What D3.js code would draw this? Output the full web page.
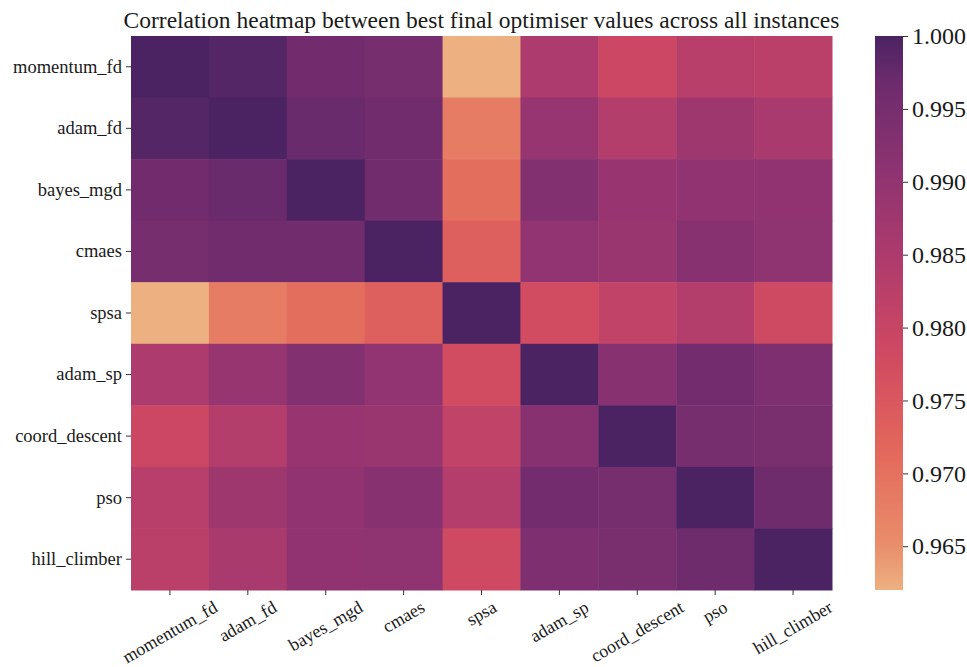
<!DOCTYPE html>
<html>
<head>
<meta charset="utf-8">
<title>Correlation heatmap</title>
<script src="https://d3js.org/d3.v7.min.js"></script>
<style>
  body { margin: 0; background: #fff; }
  svg text { font-family: "Liberation Serif", "DejaVu Serif", serif; fill: #1a1a1a; }
  .tick line { stroke: #333; }
</style>
</head>
<body>
<svg id="chart" width="967" height="667"></svg>
<script>
// optimisers, same order on both axes
var optimisers = ["momentum_fd", "adam_fd", "bayes_mgd", "cmaes", "spsa",
                  "adam_sp", "coord_descent", "pso", "hill_climber"];

// one row of correlations per optimiser
var momentumFd   = [1.0000, 0.9990, 0.9957, 0.9948, 0.9620, 0.9850, 0.9790, 0.9830, 0.9823];
var adamFd       = [0.9990, 1.0000, 0.9970, 0.9962, 0.9680, 0.9892, 0.9838, 0.9875, 0.9857];
var bayesMgd     = [0.9957, 0.9970, 1.0000, 0.9960, 0.9705, 0.9928, 0.9888, 0.9902, 0.9902];
var cmaes        = [0.9948, 0.9962, 0.9960, 1.0000, 0.9735, 0.9900, 0.9886, 0.9920, 0.9904];
var spsa         = [0.9620, 0.9680, 0.9705, 0.9735, 1.0000, 0.9775, 0.9810, 0.9838, 0.9785];
var adamSp       = [0.9850, 0.9892, 0.9928, 0.9900, 0.9775, 1.0000, 0.9918, 0.9955, 0.9935];
var coordDescent = [0.9790, 0.9838, 0.9888, 0.9886, 0.9810, 0.9918, 1.0000, 0.9948, 0.9945];
var pso          = [0.9830, 0.9875, 0.9902, 0.9920, 0.9838, 0.9955, 0.9948, 1.0000, 0.9963];
var hillClimber  = [0.9823, 0.9857, 0.9902, 0.9904, 0.9785, 0.9935, 0.9945, 0.9963, 1.0000];

var rows = [momentumFd, adamFd, bayesMgd, cmaes, spsa, adamSp, coordDescent, pso, hillClimber];

var cbarTicks = [0.965, 0.970, 0.975, 0.980, 0.985, 0.990, 0.995, 1.000];

var title = "Correlation heatmap between best final optimiser values across all instances";

// seaborn "flare" colour ramp
var flare   = ["#edb081", "#e98d6b", "#e3685c", "#d14a61", "#b13c6c", "#8f3371", "#6c2b6d", "#4b2362"];
var flareAt = [0, 1/12, 3/12, 5/12, 7/12, 9/12, 11/12, 1];

var serif = '"Liberation Serif", "DejaVu Serif", serif';

var svg = d3.select("#chart");

// plot box (px)
var pLeft = 131, pRight = 832, pTop = 36, pBottom = 590;

var x = d3.scaleBand().domain(optimisers).range([pLeft, pRight]);
var y = d3.scaleBand().domain(optimisers).range([pTop, pBottom]);

var vmin = d3.min(rows, function(r) { return d3.min(r); }),
    vmax = d3.max(rows, function(r) { return d3.max(r); });

var color = d3.scaleLinear()
    .domain(flareAt.map(function(t) { return vmin + t * (vmax - vmin); }))
    .range(flare)
    .interpolate(d3.interpolateRgb);

// cells
var cells = [];
rows.forEach(function(r, i) {
  r.forEach(function(v, j) {
    cells.push({row: optimisers[i], col: optimisers[j], value: v});
  });
});

svg.append("g").selectAll("rect")
  .data(cells)
  .enter().append("rect")
    .attr("x", function(d) { return x(d.col); })
    .attr("y", function(d) { return y(d.row); })
    .attr("width", x.bandwidth() + 0.5)
    .attr("height", y.bandwidth() + 0.5)
    .attr("fill", function(d) { return color(d.value); });

// y axis
var yAxis = svg.append("g")
    .attr("transform", "translate(" + pLeft + ",0)")
    .call(d3.axisLeft(y).tickSize(5).tickPadding(4))
    .attr("font-family", serif);
yAxis.select(".domain").remove();
yAxis.selectAll("text").style("font-size", "18.5px").style("font-family", serif);

// x axis, labels turned 30 degrees and centred under the tick
var xAxis = svg.append("g")
    .attr("transform", "translate(0," + pBottom + ")")
    .call(d3.axisBottom(x).tickSize(5))
    .attr("font-family", serif);
xAxis.select(".domain").remove();
var fs = 18, ang = 30 * Math.PI / 180;
xAxis.selectAll("text")
    .style("font-size", fs + "px")
    .style("font-family", serif)
    .attr("text-anchor", "middle")
    .attr("y", 0)
    .attr("dy", "0.32em")
    .attr("transform", function() {
      var w = this.getComputedTextLength();
      var bh = w * Math.sin(ang) + fs * Math.cos(ang);
      return "translate(0," + (5 + 3 + bh / 2) + ") rotate(-30)";
    });

// colour bar
var cbX = 875, cbW = 28;
var cbScale = d3.scaleLinear().domain([vmin, vmax]).range([pBottom, pTop]);

var grad = svg.append("defs").append("linearGradient")
    .attr("id", "cbar")
    .attr("x1", 0).attr("y1", 1).attr("x2", 0).attr("y2", 0);
d3.range(0, 1.0001, 0.02).forEach(function(t) {
  grad.append("stop")
      .attr("offset", t)
      .attr("stop-color", color(vmin + t * (vmax - vmin)));
});

svg.append("rect")
    .attr("x", cbX).attr("y", pTop)
    .attr("width", cbW).attr("height", pBottom - pTop)
    .attr("fill", "url(#cbar)");

var cAxis = svg.append("g")
    .attr("transform", "translate(" + (cbX + cbW) + ",0)")
    .call(d3.axisRight(cbScale).tickValues(cbarTicks).tickFormat(d3.format(".3f")).tickSize(5).tickPadding(4))
    .attr("font-family", serif);
cAxis.select(".domain").remove();
cAxis.selectAll("text").style("font-size", "24px").style("font-family", serif);

// title
svg.append("text")
    .attr("x", (pLeft + pRight) / 2)
    .attr("y", 28)
    .attr("text-anchor", "middle")
    .style("font-size", "23.5px")
    .style("font-family", serif)
    .text(title);
</script>
</body>
</html>
